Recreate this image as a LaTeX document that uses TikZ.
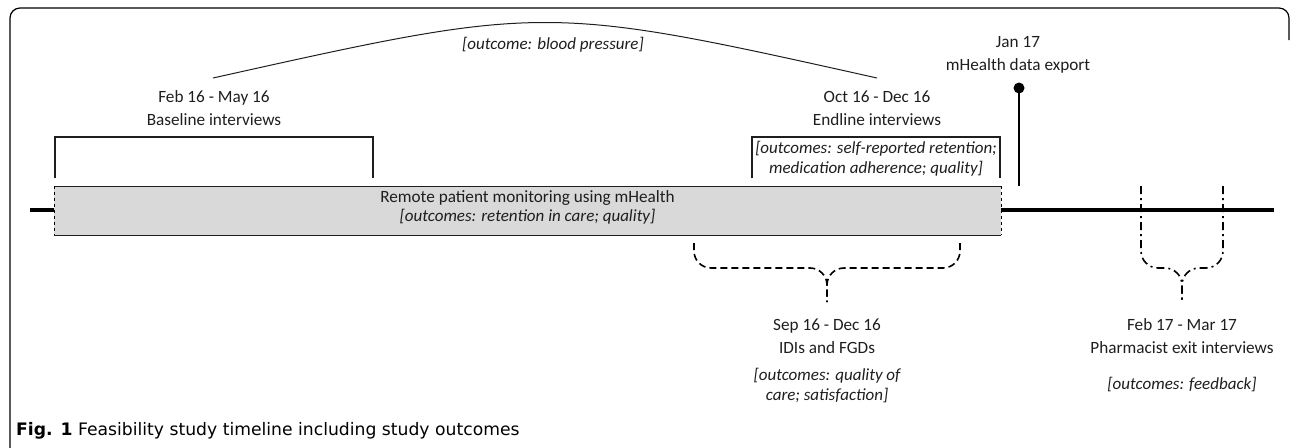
\documentclass[tikz,border=0pt]{standalone}
\usepackage{fontspec}
\setmainfont{Carlito}
\newfontfamily\capfont{DejaVu Sans}
\definecolor{boxgray}{RGB}{217,217,217}
\definecolor{ink}{RGB}{30,30,30}
\tikzset{
  lbl/.style={align=center, inner sep=0pt, text=ink, font=\fontsize{17.2}{23}\selectfont},
  outc/.style={align=center, inner sep=0pt, text=ink, font=\fontsize{17}{20}\selectfont\itshape},
  brk/.style={line width=1.5pt, ink},
  dsh/.style={line width=1.6pt, dash pattern=on 7pt off 4pt, rounded corners=17pt},
  dshdot/.style={dsh, dash pattern=on 8pt off 4pt on 2pt off 4pt},
}
\begin{document}
\begin{tikzpicture}[>=stealth, x=1pt, y=-1pt]
\useasboundingbox (0,0) rectangle (1290,447);
% frame and caption
\draw[line width=1.2pt, rounded corners=10pt] (22,458) -- (10,458) -- (10,8) -- (1289,8) -- (1289,40);
\node (cap) at (16,435.5)[anchor=base west, inner sep=0pt, font=\capfont\fontsize{17.2}{19}\selectfont]{\textbf{Fig. 1} Feasibility study timeline including study outcomes};
% timeline
\coordinate (tl0) at (30,210);
\coordinate (tl1) at (1274,210);
\draw[line width=4pt] (tl0) -- (tl1);
\fill[boxgray] (54,186) rectangle (1001,235);
\draw[line width=1pt, ink] (54,186) -- (1001,186) (54,235) -- (1001,235);
\draw[line width=1pt, dashed] (54,186) -- (54,235) (1001,186) -- (1001,235);
\node (rpm) at (527.5,202)[lbl, anchor=base]{Remote patient monitoring using mHealth};
\node (rpmout) at (527.5,221)[outc, anchor=base]{[outcomes: retention in care; quality]};
% baseline
\node (base) at (214,108)[lbl]{Feb 16 - May 16\\Baseline interviews};
\coordinate (bl0) at (55,178);
\coordinate (bl1) at (373,178);
\draw[brk] (bl0) -- ++(0,-41) -| (bl1);
% endline
\node (endl) at (877,108)[lbl]{Oct 16 - Dec 16\\Endline interviews};
\coordinate (el0) at (752,178);
\coordinate (el1) at (1000,178);
\draw[brk] (el0) -- ++(0,-41) -| (el1);
\node (endout) at (876,159)[outc]{[outcomes: self-reported retention;\\medication adherence; quality]};
% blood pressure
\coordinate (bp0) at (213,78);
\coordinate (bp1) at (877,78);
\draw[line width=1pt, ink] (bp0) .. controls (545,4) .. (bp1);
\node (bp) at (553,45)[outc]{[outcome: blood pressure]};
% data export
\node (exp) at (1018,55)[lbl]{Jan 17\\mHealth data export};
\coordinate (pin) at (1019,88);
\coordinate (pinb) at (1019,186);
\draw[line width=2pt] (pin) -- (pinb);
\fill (pin) circle (5.5);
% IDIs and FGDs
\coordinate (id0) at (694,243);
\coordinate (id1) at (960,243);
\coordinate (idm) at (827,302);
\draw[dsh] (id0) |- (827,268) -- (idm);
\draw[dsh] (id1) |- (827,268) -- (idm);
\node (idi) at (827,336)[lbl]{Sep 16 - Dec 16\\IDIs and FGDs};
\node (idiout) at (827,386)[outc]{[outcomes: quality of\\care; satisfaction]};
% pharmacist exit interviews
\coordinate (ph0) at (1141,186);
\coordinate (ph1) at (1223,186);
\coordinate (phm) at (1182,302);
\draw[dshdot] (ph0) |- (1182,268) -- (phm);
\draw[dshdot] (ph1) |- (1182,268) -- (phm);
\node (pha) at (1182,336)[lbl]{Feb 17 - Mar 17\\Pharmacist exit interviews};
\node (phaout) at (1182,385)[outc]{[outcomes: feedback]};
\end{tikzpicture}
\end{document}
